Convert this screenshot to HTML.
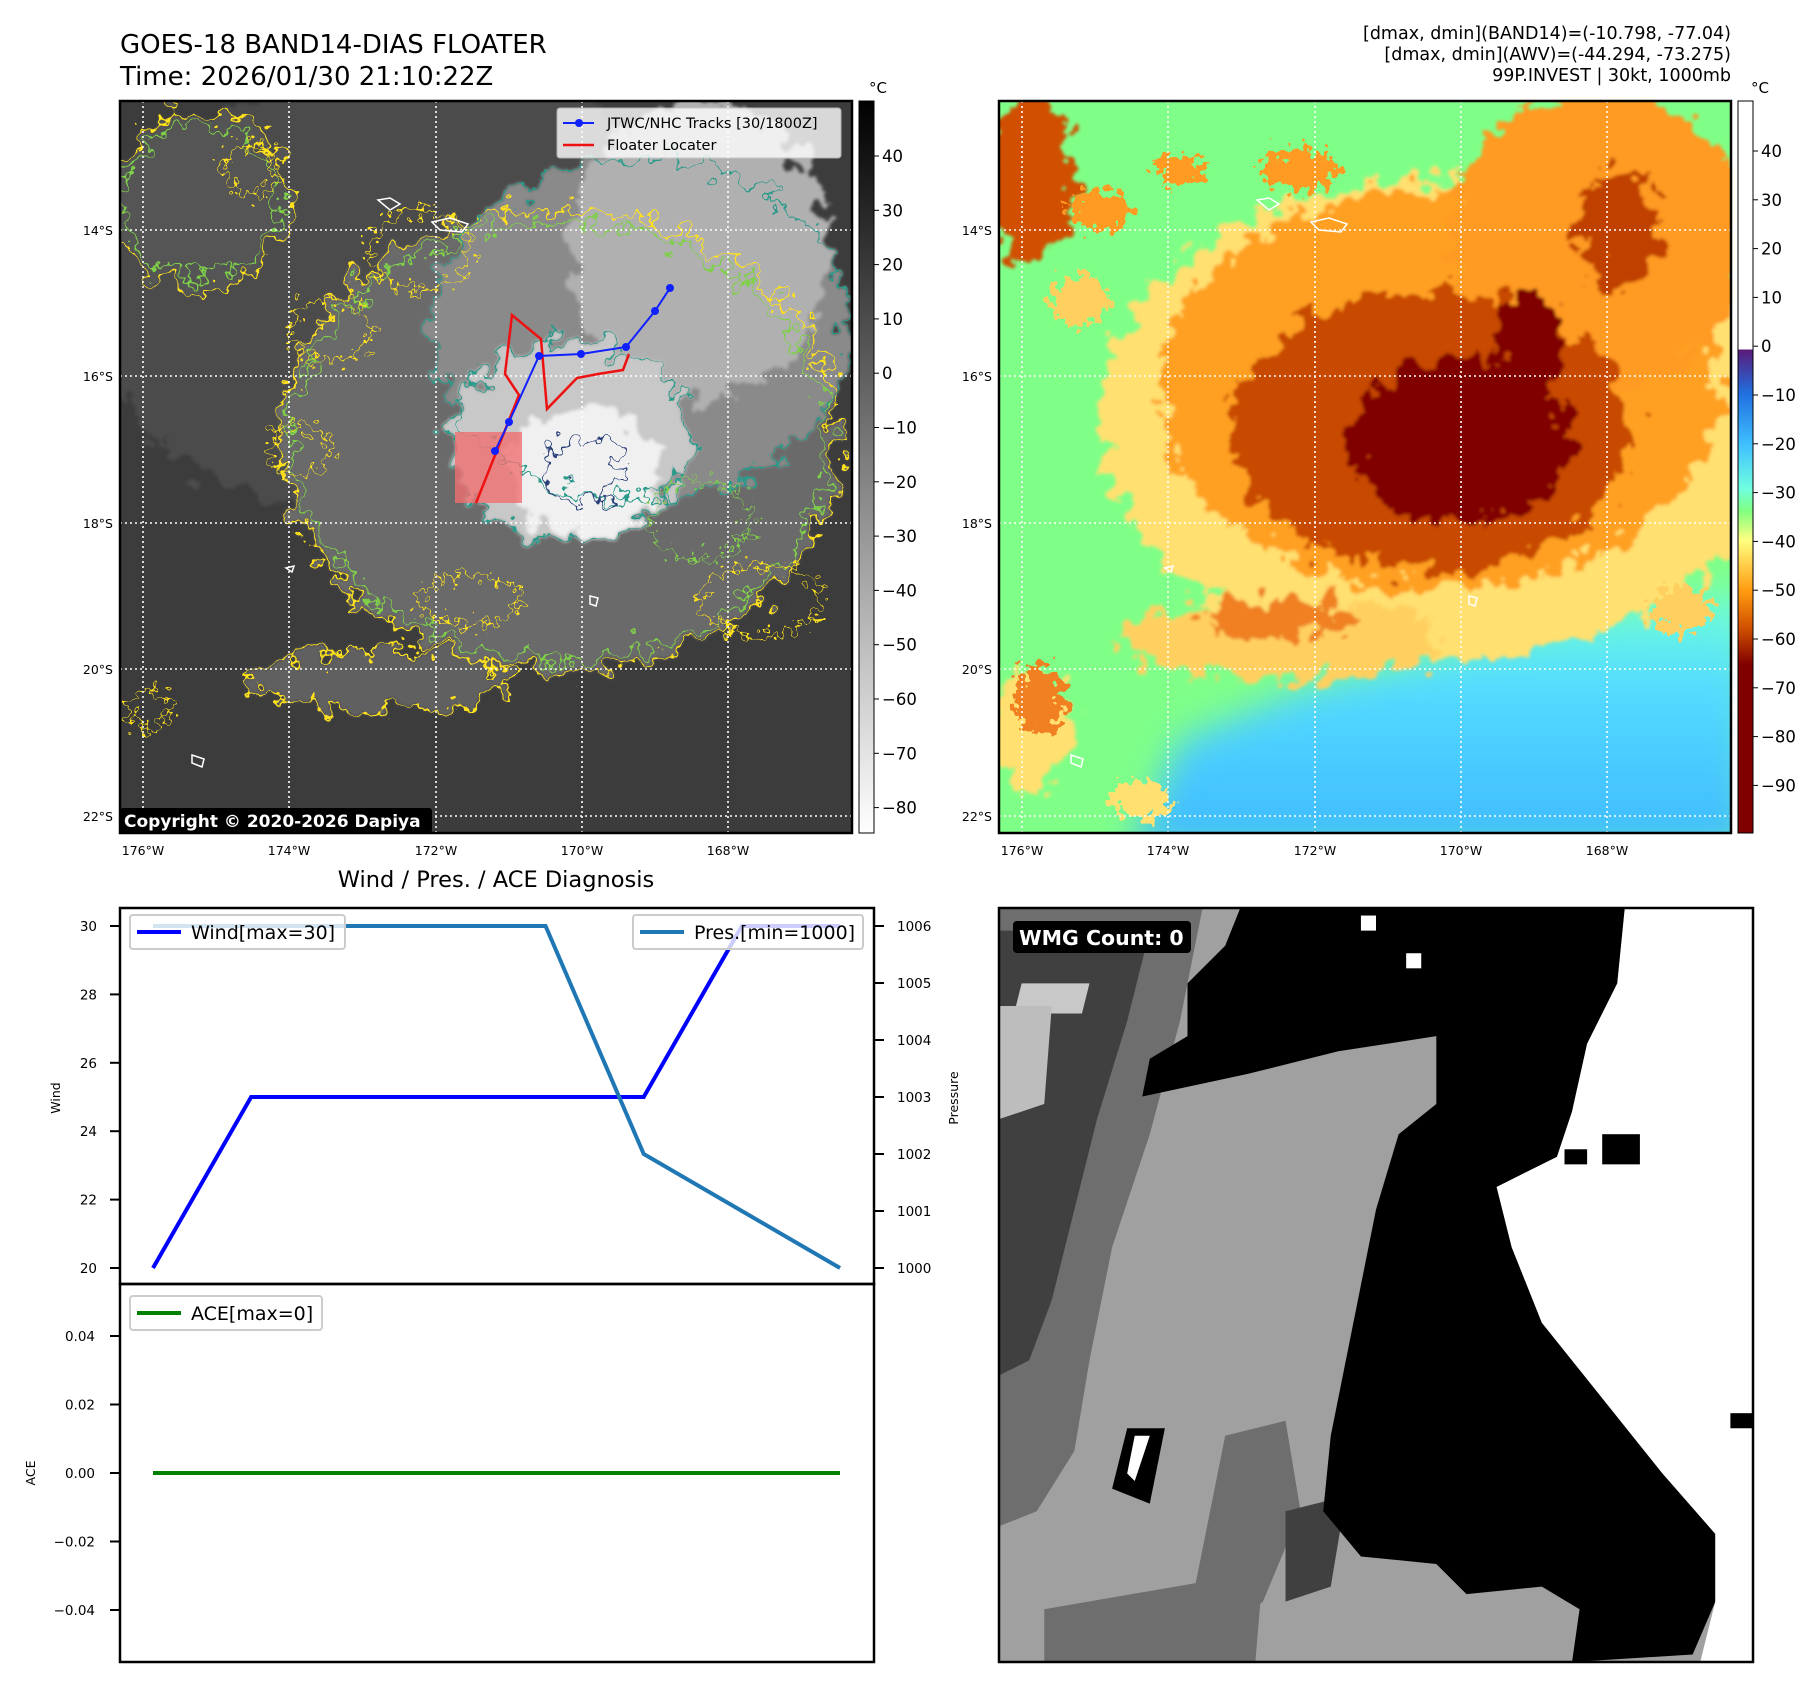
<!DOCTYPE html>
<html><head><meta charset="utf-8"><style>
html,body{margin:0;padding:0;background:#fff;}
svg{display:block;font-family:"DejaVu Sans","Liberation Sans",sans-serif;}
</style></head><body>
<svg id="fig" width="1813" height="1690" viewBox="0 0 1813 1690">
<defs>
  <filter id="blur20" x="-50%" y="-50%" width="200%" height="200%"><feGaussianBlur stdDeviation="18"/></filter>
  <filter id="tex" x="-20%" y="-20%" width="140%" height="140%">
    <feTurbulence type="fractalNoise" baseFrequency="0.05" numOctaves="3" seed="7"/>
    <feDisplacementMap in="SourceGraphic" scale="55" xChannelSelector="R" yChannelSelector="G"/>
    <feGaussianBlur stdDeviation="1.5"/>
  </filter>
  <filter id="wig" x="-20%" y="-20%" width="140%" height="140%">
    <feTurbulence type="fractalNoise" baseFrequency="0.05" numOctaves="3" seed="7"/>
    <feDisplacementMap in="SourceGraphic" scale="55" xChannelSelector="R" yChannelSelector="G"/>
  </filter>
  <filter id="spk" x="-20%" y="-20%" width="140%" height="140%">
    <feTurbulence type="fractalNoise" baseFrequency="0.12" numOctaves="2" seed="11"/>
    <feDisplacementMap in="SourceGraphic" scale="40" xChannelSelector="R" yChannelSelector="G"/>
  </filter>
  <linearGradient id="cbGray" x1="0" y1="0" x2="0" y2="1">
    <stop offset="0" stop-color="#000"/><stop offset="1" stop-color="#fff"/>
  </linearGradient>
  <linearGradient id="cbAwv" x1="0" y1="101" x2="0" y2="833" gradientUnits="userSpaceOnUse">
    <stop offset="0.3393" stop-color="#fff"/>
    <stop offset="0.3394" stop-color="#5a1a78"/>
    <stop offset="0.40" stop-color="#2070e0"/>
    <stop offset="0.47" stop-color="#40c0ff"/>
    <stop offset="0.53" stop-color="#70ffe0"/>
    <stop offset="0.56" stop-color="#80ff80"/>
    <stop offset="0.60" stop-color="#ffff80"/>
    <stop offset="0.67" stop-color="#ff9a10"/>
    <stop offset="0.72" stop-color="#d05000"/>
    <stop offset="0.77" stop-color="#800000"/>
    <stop offset="1" stop-color="#800000"/>
  </linearGradient>
  <linearGradient id="blueGrad" x1="0" y1="600" x2="0" y2="833" gradientUnits="userSpaceOnUse">
    <stop offset="0" stop-color="#70ffd8"/><stop offset="0.35" stop-color="#55dcff"/><stop offset="1" stop-color="#40bcff"/>
  </linearGradient>
  <clipPath id="clipL"><rect x="120" y="101" width="732" height="732"/></clipPath>
  <clipPath id="clipR"><rect x="999" y="101" width="732" height="732"/></clipPath>
</defs>

<text x="120" y="53" font-size="26">GOES-18 BAND14-DIAS FLOATER</text>
<text x="120" y="85" font-size="26">Time: 2026/01/30 21:10:22Z</text>
<g font-size="17.5" text-anchor="end">
  <text x="1731" y="39">[dmax, dmin](BAND14)=(-10.798, -77.04)</text>
  <text x="1731" y="60">[dmax, dmin](AWV)=(-44.294, -73.275)</text>
  <text x="1731" y="81">99P.INVEST | 30kt, 1000mb</text>
</g>

<!-- LEFT MAP -->
<g clip-path="url(#clipL)">
  <rect x="120" y="101" width="732" height="732" fill="#3c3c3c"/>
  <g filter="url(#tex)">
    <ellipse cx="420" cy="300" rx="330" ry="230" fill="#4c4c4c"/>
    <ellipse cx="200" cy="200" rx="90" ry="90" fill="#555"/>
    <ellipse cx="560" cy="440" rx="280" ry="230" fill="#6a6a6a"/>
    <ellipse cx="380" cy="680" rx="130" ry="30" fill="#606060"/>
    <ellipse cx="640" cy="330" rx="210" ry="170" fill="#8a8a8a"/>
    <ellipse cx="700" cy="250" rx="130" ry="150" fill="#b0b0b0"/>
    <ellipse cx="570" cy="440" rx="120" ry="100" fill="#c8c8c8"/>
    <ellipse cx="585" cy="470" rx="75" ry="65" fill="#f0f0f0"/>
  </g>
  <g filter="url(#wig)" fill="none" stroke-width="2.2">
    <ellipse cx="560" cy="440" rx="280" ry="230" stroke="#ffe21a"/>
    <ellipse cx="560" cy="440" rx="268" ry="218" stroke="#7fd04a"/>
    <ellipse cx="640" cy="330" rx="210" ry="170" stroke="#2a9a8a"/>
    <ellipse cx="570" cy="440" rx="120" ry="100" stroke="#2a9a8a"/>
    <ellipse cx="200" cy="200" rx="90" ry="90" stroke="#ffe21a"/>
    <ellipse cx="200" cy="200" rx="78" ry="78" stroke="#7fd04a"/>
    <ellipse cx="380" cy="680" rx="130" ry="30" stroke="#ffe21a"/>
    <ellipse cx="585" cy="470" rx="38" ry="32" stroke="#2b3f7a"/>
  </g>
  <g filter="url(#spk)" fill="none" stroke-width="2" stroke="#ffe21a">
    <ellipse cx="330" cy="330" rx="40" ry="30"/><ellipse cx="420" cy="250" rx="50" ry="40"/>
    <ellipse cx="300" cy="450" rx="30" ry="25"/><ellipse cx="760" cy="600" rx="60" ry="35"/>
    <ellipse cx="470" cy="600" rx="50" ry="25"/><ellipse cx="150" cy="710" rx="20" ry="20"/>
    <ellipse cx="250" cy="170" rx="25" ry="25"/><ellipse cx="700" cy="520" rx="50" ry="40" stroke="#7fd04a"/>
  </g>
  <g stroke="#fff" stroke-width="1.6" stroke-dasharray="2,3" fill="none">
    <line x1="143" y1="101" x2="143" y2="833"/><line x1="289" y1="101" x2="289" y2="833"/>
    <line x1="436" y1="101" x2="436" y2="833"/><line x1="582" y1="101" x2="582" y2="833"/>
    <line x1="728" y1="101" x2="728" y2="833"/>
    <line x1="120" y1="230" x2="852" y2="230"/><line x1="120" y1="376" x2="852" y2="376"/>
    <line x1="120" y1="523" x2="852" y2="523"/><line x1="120" y1="669" x2="852" y2="669"/>
    <line x1="120" y1="816" x2="852" y2="816"/>
  </g>
  <g fill="none" stroke="#fff" stroke-width="1.5">
    <path d="M432,222 l18,-4 l18,6 l-6,8 l-22,-2 z"/><path d="M378,200 l12,-2 l10,6 l-10,6 z"/>
    <path d="M286,568 l8,-2 l-2,6 z"/><path d="M192,755 l12,4 l-2,8 l-10,-4 z"/>
    <path d="M590,596 l8,2 l-2,8 l-6,-2 z"/>
  </g>
  <rect x="455" y="432" width="67" height="71" fill="#f07070" opacity="0.8"/>
  <polyline points="476,503 519,395 505,374 512,315 541,339 547,409 577,378 598,374 623,370 629,354" fill="none" stroke="#ee1111" stroke-width="2.5"/>
  <polyline points="670,288 655,311 626,347 581,354 539,356 509,422 495,451" fill="none" stroke="#1020ff" stroke-width="2"/>
  <g fill="#1020ff">
    <circle cx="670" cy="288" r="4"/><circle cx="655" cy="311" r="4"/><circle cx="626" cy="347" r="4"/>
    <circle cx="581" cy="354" r="4"/><circle cx="539" cy="356" r="4"/><circle cx="509" cy="422" r="4"/><circle cx="495" cy="451" r="4"/>
  </g>
  <g>
    <rect x="557" y="108" width="284" height="50" fill="#fff" opacity="0.8" stroke="#ccc" rx="3"/>
    <line x1="563" y1="123" x2="594" y2="123" stroke="#1020ff" stroke-width="2"/><circle cx="579" cy="123" r="4" fill="#1020ff"/>
    <text x="607" y="128" font-size="14.5">JTWC/NHC Tracks [30/1800Z]</text>
    <line x1="563" y1="145" x2="594" y2="145" stroke="#ee1111" stroke-width="2.5"/>
    <text x="607" y="150" font-size="14.5">Floater Locater</text>
  </g>
  <rect x="120" y="808" width="312" height="25" fill="#000" rx="3"/>
  <text x="124" y="827" font-size="17" font-weight="bold" fill="#fff">Copyright © 2020-2026 Dapiya</text>
</g>
<rect x="120" y="101" width="732" height="732" fill="none" stroke="#000" stroke-width="2.5"/>

<!-- RIGHT MAP -->
<g clip-path="url(#clipR)">
  <rect x="999" y="101" width="732" height="732" fill="#80ff88"/>
  <g filter="url(#blur20)">
    <polygon points="1130,850 1180,740 1300,690 1450,650 1600,610 1750,590 1750,850" fill="url(#blueGrad)"/>
  </g>
  <g filter="url(#tex)">
    <ellipse cx="1440" cy="420" rx="340" ry="240" fill="#ffe070"/>
    <ellipse cx="1280" cy="640" rx="160" ry="40" fill="#ffd060"/>
    <ellipse cx="1030" cy="730" rx="40" ry="60" fill="#ffe070"/>
    <ellipse cx="1440" cy="390" rx="280" ry="200" fill="#ffa020"/>
    <ellipse cx="1600" cy="240" rx="150" ry="150" fill="#ff9a20"/>
    <ellipse cx="1280" cy="620" rx="80" ry="20" fill="#f08020"/>
    <ellipse cx="1030" cy="180" rx="45" ry="85" fill="#d05000"/>
    <ellipse cx="1430" cy="430" rx="200" ry="140" fill="#c84800"/>
    <ellipse cx="1460" cy="440" rx="110" ry="85" fill="#800000"/>
    <ellipse cx="1530" cy="340" rx="35" ry="50" fill="#800000"/>
    <ellipse cx="1620" cy="230" rx="40" ry="60" fill="#c04000"/>
  </g>
  <g filter="url(#spk)" fill="#ff9a20">
    <ellipse cx="1100" cy="210" rx="30" ry="20"/><ellipse cx="1180" cy="170" rx="25" ry="15"/>
    <ellipse cx="1300" cy="170" rx="40" ry="20"/><ellipse cx="1080" cy="300" rx="30" ry="25" fill="#ffd060"/>
    <ellipse cx="1040" cy="700" rx="25" ry="35" fill="#f08020"/><ellipse cx="1140" cy="800" rx="30" ry="20" fill="#ffe070"/>
    <ellipse cx="1680" cy="610" rx="30" ry="25" fill="#ffd060"/>
  </g>
  <g stroke="#fff" stroke-width="1.6" stroke-dasharray="2,3" fill="none">
    <line x1="1022" y1="101" x2="1022" y2="833"/><line x1="1168" y1="101" x2="1168" y2="833"/>
    <line x1="1315" y1="101" x2="1315" y2="833"/><line x1="1461" y1="101" x2="1461" y2="833"/>
    <line x1="1607" y1="101" x2="1607" y2="833"/>
    <line x1="999" y1="230" x2="1731" y2="230"/><line x1="999" y1="376" x2="1731" y2="376"/>
    <line x1="999" y1="523" x2="1731" y2="523"/><line x1="999" y1="669" x2="1731" y2="669"/>
    <line x1="999" y1="816" x2="1731" y2="816"/>
  </g>
  <g fill="none" stroke="#fff" stroke-width="1.5">
    <path d="M1311,222 l18,-4 l18,6 l-6,8 l-22,-2 z"/><path d="M1257,200 l12,-2 l10,6 l-10,6 z"/>
    <path d="M1165,568 l8,-2 l-2,6 z"/><path d="M1071,755 l12,4 l-2,8 l-10,-4 z"/><path d="M1469,596 l8,2 l-2,8 l-6,-2 z"/>
  </g>
</g>
<rect x="999" y="101" width="732" height="732" fill="none" stroke="#000" stroke-width="2.5"/>

<g font-size="12.5" text-anchor="end">
  <text x="113" y="235">14°S</text><text x="113" y="381">16°S</text><text x="113" y="528">18°S</text><text x="113" y="674">20°S</text><text x="113" y="821">22°S</text>
  <text x="992" y="235">14°S</text><text x="992" y="381">16°S</text><text x="992" y="528">18°S</text><text x="992" y="674">20°S</text><text x="992" y="821">22°S</text>
</g>
<g font-size="12.5" text-anchor="middle">
  <text x="143" y="855">176°W</text><text x="289" y="855">174°W</text><text x="436" y="855">172°W</text><text x="582" y="855">170°W</text><text x="728" y="855">168°W</text>
  <text x="1022" y="855">176°W</text><text x="1168" y="855">174°W</text><text x="1315" y="855">172°W</text><text x="1461" y="855">170°W</text><text x="1607" y="855">168°W</text>
</g>

<g>
  <rect x="859" y="101" width="15" height="732" fill="url(#cbGray)" stroke="#000" stroke-width="1"/>
  <text x="878" y="93" font-size="15" text-anchor="middle">°C</text>
  <g id="cbL" font-size="16.5"></g>
</g>
<g>
  <rect x="1738" y="101" width="15" height="732" fill="url(#cbAwv)" stroke="#000" stroke-width="1"/>
  <text x="1760" y="93" font-size="15" text-anchor="middle">°C</text>
  <g id="cbR" font-size="16.5"></g>
</g>

<text x="496" y="887" font-size="22.5" text-anchor="middle">Wind / Pres. / ACE Diagnosis</text>
<g id="chart"></g>
<text transform="translate(60,1098) rotate(-90)" font-size="12.5" text-anchor="middle">Wind</text>
<text transform="translate(958,1098) rotate(-90)" font-size="12.5" text-anchor="middle">Pressure</text>
<text transform="translate(35,1473) rotate(-90)" font-size="12.5" text-anchor="middle">ACE</text>

<svg x="999" y="908" width="754" height="754" viewBox="0 0 100 100" preserveAspectRatio="none">
  <rect x="0" y="0" width="100" height="100" fill="#a0a0a0"/>
  <polygon points="0,0 27,0 24,15 20,30 15,45 12,60 10,72 5,80 0,82" fill="#6e6e6e"/>
  <polygon points="0,3 20,3 17,15 13,28 10,40 7,52 4,60 0,62" fill="#404040"/>
  <polygon points="3,10 12,10 11,14 2,14" fill="#c8c8c8"/>
  <polygon points="0,13 7,13 6,26 0,28" fill="#bdbdbd"/>
  <polygon points="30,70 38,68 40,80 35,92 30,96 26,90" fill="#6e6e6e"/>
  <polygon points="6,93 35,88 34,100 6,100" fill="#6e6e6e"/>
  <polygon points="38,80 46,78 44,90 38,92" fill="#404040"/>
  <polygon points="32,0 83,0 82,10 78,18 76,27 74,33 66,37 68,45 72,55 80,65 88,75 95,83 95,92 92,99 76,100 77,93 72,90 62,91 58,87 48,86 43,80 44,70 46,60 48,50 50,40 53,30 58,26 58,17 45,19 33,22 19,25 20,20 25,17 25,10 30,5" fill="#000"/>
  <polygon points="83,0 100,0 100,100 93,100 95,92 95,83 88,75 80,65 72,55 68,45 66,37 74,33 76,27 78,18 82,10" fill="#fff"/>
  <rect x="80" y="30" width="5" height="4" fill="#000"/><rect x="75" y="32" width="3" height="2" fill="#000"/>
  <rect x="97" y="67" width="3" height="2" fill="#000"/>
  <rect x="48" y="1" width="2" height="2" fill="#fff"/><rect x="54" y="6" width="2" height="2" fill="#fff"/>
  <polygon points="17,69 22,69 20,79 15,77" fill="#000"/><polygon points="18,70 20,70 18,76 17,75" fill="#fff"/>
</svg>
<rect x="999" y="908" width="754" height="754" fill="none" stroke="#000" stroke-width="2.5"/>
<rect x="1013" y="921" width="178" height="32" rx="4" fill="#000"/>
<text x="1019" y="945" font-size="20.5" font-weight="bold" fill="#fff">WMG Count: 0</text>

<script>
const NS = 'http://www.w3.org/2000/svg';
const steps = [0, 1, 2, 3, 4, 5, 6, 7];
const windVals = [20, 25, 25, 25, 25, 25, 30, 30];
const presVals = [1006, 1006, 1006, 1006, 1006, 1002, 1001, 1000];
const aceVals = [0, 0, 0, 0, 0, 0, 0, 0];
const windTicks = [20, 22, 24, 26, 28, 30];
const presTicks = [1000, 1001, 1002, 1003, 1004, 1005, 1006];
const aceTicks = [-0.04, -0.02, 0.00, 0.02, 0.04];
const irCbTicks = [40, 30, 20, 10, 0, -10, -20, -30, -40, -50, -60, -70, -80];
const awvCbTicks = [40, 30, 20, 10, 0, -10, -20, -30, -40, -50, -60, -70, -80, -90];

function mk(tag, attrs, parent) {
  const e = document.createElementNS(NS, tag);
  for (const k in attrs) e.setAttribute(k, attrs[k]);
  parent.appendChild(e);
  return e;
}
const X = i => 153 + (i - steps[0]) * (687 / (steps.length - 1));
const Yw = v => 1268 - (v - 20) * 34.2;
const Yp = v => 1268 - (v - 1000) * 57;
const Ya = v => 1473 - v * 3425;
const chart = document.getElementById('chart');

const b1 = mk('rect', {x:120, y:908, width:754, height:376, fill:'none', stroke:'#000', 'stroke-width':2.5}, chart);


const b2 = mk('rect', {x:120, y:1284, width:754, height:378, fill:'none', stroke:'#000', 'stroke-width':2.5}, chart);



windTicks.forEach(t => {
  const y = Yw(t);
  const l = mk('line', {x1:110, x2:120, y1:y, y2:y, stroke:'#000', 'stroke-width':2}, chart);
  
  
  const tx = mk('text', {x:97, y:y+5, 'font-size':13.5, 'text-anchor':'end'}, chart);
  tx.textContent = t;
  
  
});
presTicks.forEach(t => {
  const y = Yp(t);
  const l = mk('line', {x1:874, x2:884, y1:y, y2:y, stroke:'#000', 'stroke-width':2}, chart);
  
  
  const tx = mk('text', {x:897, y:y+5, 'font-size':13.5}, chart);
  tx.textContent = t;
  
  
});
aceTicks.forEach(t => {
  const y = Ya(t);
  const l = mk('line', {x1:110, x2:120, y1:y, y2:y, stroke:'#000', 'stroke-width':2}, chart);
  
  
  const tx = mk('text', {x:95, y:y+5, 'font-size':13.5, 'text-anchor':'end'}, chart);
  tx.textContent = (t < 0 ? '\u2212' : '') + Math.abs(t).toFixed(2);
  
  
});

const wl = mk('polyline', {points: steps.map((s,i)=>X(s)+','+Yw(windVals[i])).join(' '), fill:'none', stroke:'#0000ff', 'stroke-width':4}, chart);


const pl = mk('polyline', {points: steps.map((s,i)=>X(s)+','+Yp(presVals[i])).join(' '), fill:'none', stroke:'#1f77b4', 'stroke-width':4}, chart);


const al = mk('polyline', {points: steps.map((s,i)=>X(s)+','+Ya(aceVals[i])).join(' '), fill:'none', stroke:'#008000', 'stroke-width':4}, chart);



function legend(x, y, w, color, label, name) {
  const g = mk('g', {}, chart);
  
  
  mk('rect', {x:x, y:y, width:w, height:34, rx:3, fill:'#fff', 'fill-opacity':0.8, stroke:'#ccc', 'stroke-width':2}, g);
  mk('line', {x1:x+7, x2:x+51, y1:y+17, y2:y+17, stroke:color, 'stroke-width':4}, g);
  const t = mk('text', {x:x+61, y:y+24, 'font-size':19}, g);
  t.textContent = label;
}
legend(130, 915, 215, '#0000ff', 'Wind[max=30]', 'wind-legend');
legend(633, 915, 230, '#1f77b4', 'Pres.[min=1000]', 'pressure-legend');
legend(130, 1296, 192, '#008000', 'ACE[max=0]', 'ace-legend');

const cbL = document.getElementById('cbL');
irCbTicks.forEach(t => {
  const y = 156 + (40 - t) * 5.43;
  mk('line', {x1:874, x2:879, y1:y, y2:y, stroke:'#000'}, cbL);
  const tx = mk('text', {x:882, y:y+6}, cbL);
  tx.textContent = t < 0 ? '\u2212' + Math.abs(t) : t;
  
  
});
const cbR = document.getElementById('cbR');
awvCbTicks.forEach(t => {
  const y = 151 + (40 - t) * 4.88;
  mk('line', {x1:1753, x2:1758, y1:y, y2:y, stroke:'#000'}, cbR);
  const tx = mk('text', {x:1761, y:y+6}, cbR);
  tx.textContent = t < 0 ? '\u2212' + Math.abs(t) : t;
  
  
});
</script>
</svg>
</body></html>
